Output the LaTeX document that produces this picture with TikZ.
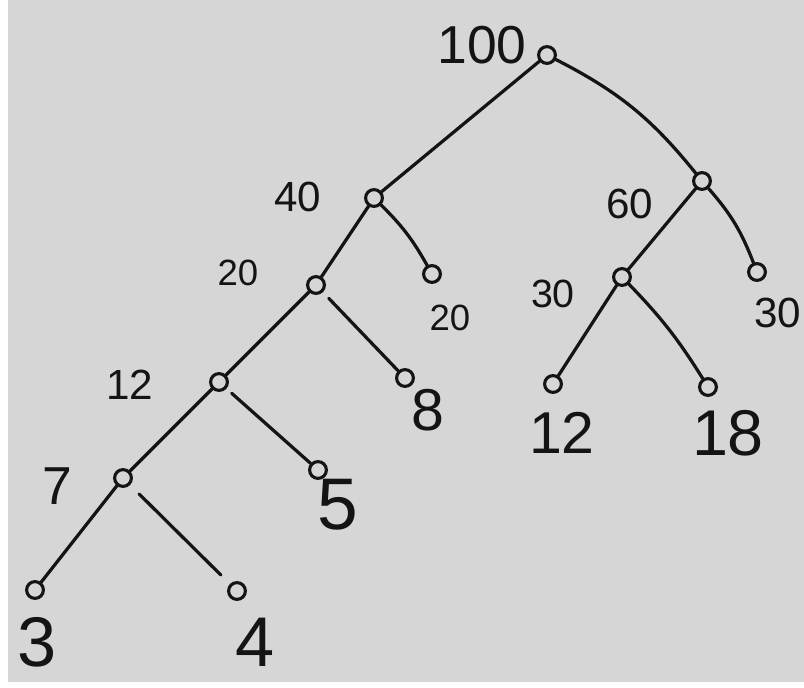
\documentclass[tikz,border=0pt]{standalone}
\usepackage{fontspec}
\setmainfont{Liberation Sans}
\definecolor{paper}{RGB}{214,214,214}
\definecolor{ink}{RGB}{20,20,20}
\begin{document}
\begin{tikzpicture}[x=0.025cm,y=-0.025cm,
  vtx/.style={circle,draw=ink,line width=2.2pt,minimum size=0.42cm,inner sep=0pt},
  edge/.style={draw=ink,line width=2.3pt,line cap=round},
  lbl/.style={text=ink,inner sep=0pt,font=\fontsize{#1}{#1}\selectfont},
  lbl/.default=28]
\fill[white] (0,0) rectangle (804,688);
\fill[paper] (8,0) rectangle (804,682);
\useasboundingbox (0,0) rectangle (804,688);
% vertices
\node[vtx] (r) at (547,55) {};
\node[vtx] (n40) at (374,198) {};
\node[vtx] (n60) at (702,181) {};
\node[vtx] (n20) at (316,285) {};
\node[vtx] (l20) at (432,274) {};
\node[vtx] (n30) at (622,277) {};
\node[vtx] (l30) at (757,272) {};
\node[vtx] (n12) at (219,382) {};
\node[vtx] (l8) at (405,378) {};
\node[vtx] (l12) at (553,384) {};
\node[vtx] (l18) at (708,387) {};
\node[vtx] (n7) at (123,478) {};
\node[vtx] (l5) at (318,470) {};
\node[vtx] (l3) at (35,590) {};
\node[vtx] (l4) at (237,591) {};
% labels
\node[lbl=38] (t100) at (482,45) {100};
\node[lbl=30] (t40) at (298,197) {40};
\node[lbl=30] (t60) at (630,204) {60};
\node[lbl=26] (t20) at (238,273) {20};
\node[lbl=26] (t20b) at (450,318) {20};
\node[lbl=28] (t30) at (553,294) {30};
\node[lbl=30] (t30b) at (778,313) {30};
\node[lbl=30] (t12) at (130,385) {12};
\node[lbl=42] (t8) at (428,410) {8};
\node[lbl=42] (t12b) at (562,433) {12};
\node[lbl=46] (t18) at (728,433) {18};
\node[lbl=38] (t7) at (57,486) {7};
\node[lbl=52] (t5) at (338,505) {5};
\node[lbl=50] (t3) at (37,642) {3};
\node[lbl=50] (t4) at (255,642) {4};
% edges
\draw[edge] (r) -- (n40);
\draw[edge] (r) to[bend left=12] (n60);
\draw[edge] (n40) -- (n20);
\draw[edge] (n40) to[bend left=8] (l20);
\draw[edge] (n60) -- (n30);
\draw[edge] (n60) to[bend left=10] (l30);
\draw[edge] (n20) -- (n12);
\draw[edge,shorten <=6pt] (n20) -- (l8);
\draw[edge] (n30) -- (l12);
\draw[edge] (n30) to[bend left=6] (l18);
\draw[edge] (n12) -- (n7);
\draw[edge,shorten <=5pt] (n12) -- (l5);
\draw[edge] (n7) -- (l3);
\draw[edge,shorten <=9pt,shorten >=9pt] (n7) -- (l4);
\end{tikzpicture}
\end{document}
